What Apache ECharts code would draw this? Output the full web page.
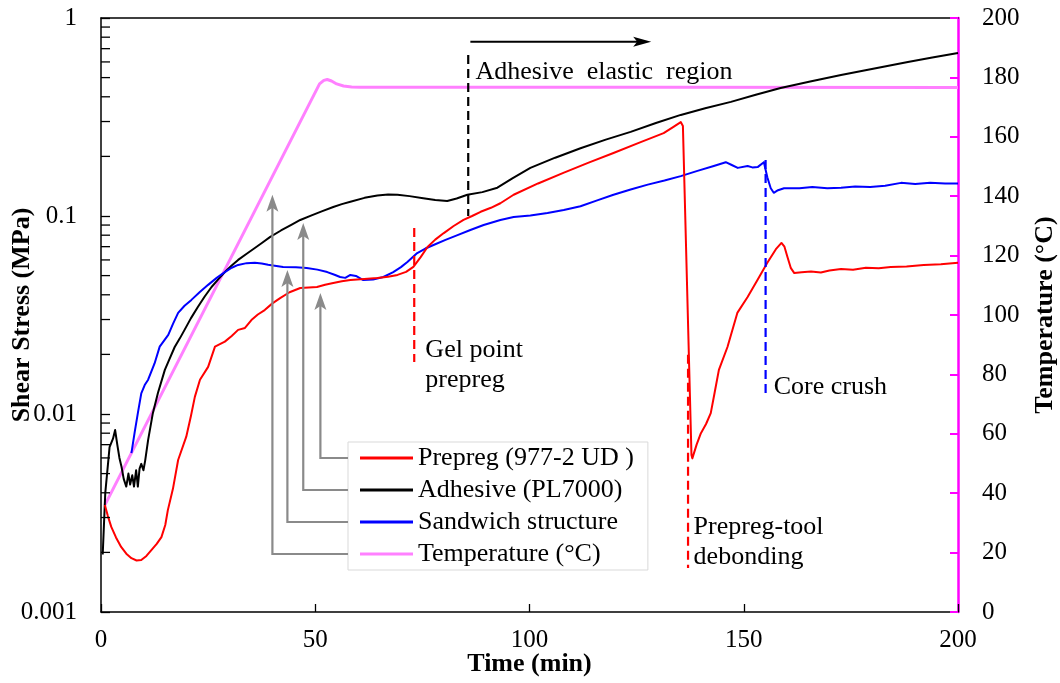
<!DOCTYPE html>
<html>
<head>
<meta charset="utf-8">
<title>Shear stress and temperature during cure</title>
<script src="https://cdn.jsdelivr.net/npm/echarts@6/dist/echarts.min.js"></script>
<style>
  html, body { margin: 0; padding: 0; background: #fff; }
  #chart { width: 1060px; height: 683px; }
</style>
</head>
<body>
<div id="chart"></div>
<script>
// ---- Data: [time (min), value] ----
const timeTicks = [0, 50, 100, 150, 200];
const stressTickLabels = ['0.001', '0.01', '0.1', '1'];
const temperatureTicks = [0, 20, 40, 60, 80, 100, 120, 140, 160, 180, 200];
const seriesNames = ['Prepreg (977-2 UD )', 'Adhesive (PL7000)', 'Sandwich structure', 'Temperature (°C)'];

// Prepreg (977-2 UD) shear stress, MPa
const prepreg = [
  [0.9, 0.00347], [1.6, 0.00305], [2.4, 0.00269], [3.5, 0.00238], [4.7, 0.00213],
  [5.9, 0.00197], [7.1, 0.00187], [8.3, 0.00182], [9.4, 0.00183], [10.6, 0.00192],
  [11.8, 0.00206], [13.0, 0.00221], [14.1, 0.00239], [15.0, 0.00275], [15.6, 0.00327],
  [16.8, 0.0042], [18.0, 0.00586], [19.9, 0.00768], [21.0, 0.0098], [21.9, 0.0122],
  [23.1, 0.0149], [25.0, 0.0173], [26.6, 0.0219], [28.9, 0.0232], [30.5, 0.0248],
  [32.0, 0.0266], [33.6, 0.0272], [35.1, 0.0298], [36.6, 0.0318], [38.2, 0.0335],
  [40.0, 0.0362], [41.8, 0.0385], [44.0, 0.0412], [46.5, 0.0433], [48.5, 0.0436],
  [50.4, 0.0438], [52.3, 0.0450], [54.2, 0.0459], [56.2, 0.0468], [58.2, 0.0475],
  [61.4, 0.0480], [64.5, 0.0486], [67.0, 0.0494], [69.2, 0.0504], [71.2, 0.0522],
  [72.9, 0.0553], [74.6, 0.0620], [76.2, 0.0697], [78.0, 0.0760], [80.0, 0.082],
  [82.3, 0.0890], [84.6, 0.0955], [86.6, 0.100], [88.6, 0.105], [91.0, 0.110],
  [93.2, 0.116], [96.3, 0.128], [102.0, 0.146], [107.9, 0.165], [113.8, 0.186],
  [119.6, 0.208], [125.5, 0.234], [131.3, 0.262], [133.6, 0.282], [135.3, 0.298],
  [135.8, 0.285], [137.8, 0.0062], [138.0, 0.00597], [139.0, 0.0070], [140.0, 0.0080],
  [141.2, 0.0089], [142.3, 0.0101], [143.2, 0.0128], [144.2, 0.0167], [146.2, 0.0218],
  [148.5, 0.0324], [150.9, 0.039], [153.2, 0.0475], [155.5, 0.058], [157.5, 0.068],
  [158.8, 0.0731], [159.5, 0.0700], [160.2, 0.0621], [161.0, 0.0545], [161.8, 0.0515],
  [163.5, 0.0520], [165.7, 0.0525], [168.0, 0.0518], [170.0, 0.0530], [172.7, 0.054],
  [175.5, 0.0535], [178.5, 0.0548], [181.5, 0.0545], [184.3, 0.0553], [188.0, 0.0556],
  [192.0, 0.0566], [196.0, 0.0570], [200.0, 0.058]
];

// Adhesive (PL7000) shear stress, MPa
const adhesive = [
  [0.4, 0.00195], [1.0, 0.0040], [2.0, 0.0068], [2.8, 0.0075], [3.3, 0.0083],
  [3.8, 0.0070], [4.3, 0.0060], [4.8, 0.0054], [5.3, 0.0047], [5.9, 0.0043],
  [6.4, 0.0050], [6.8, 0.0044], [7.3, 0.0049], [7.7, 0.0043], [8.2, 0.0052],
  [8.6, 0.0043], [9.0, 0.0053], [9.4, 0.0056], [9.9, 0.0052], [10.3, 0.0058],
  [11.0, 0.0074], [12.1, 0.0101], [13.3, 0.0128], [14.9, 0.0167], [16.0, 0.0190],
  [17.2, 0.0218], [18.4, 0.0241], [19.5, 0.0266], [21.0, 0.0305], [22.6, 0.0347],
  [24.2, 0.0392], [25.8, 0.0438], [27.4, 0.0480], [28.9, 0.0521], [30.5, 0.0562],
  [32.0, 0.060], [34.0, 0.0645], [35.9, 0.0689], [37.7, 0.0735], [39.5, 0.0784],
  [42.0, 0.0845], [44.3, 0.0900], [46.5, 0.0955], [49.0, 0.1005], [51.5, 0.1055],
  [54.2, 0.111], [56.2, 0.1148], [58.2, 0.118], [61.5, 0.1235], [64.5, 0.127],
  [67.0, 0.1285], [69.2, 0.128], [72.0, 0.126], [75.2, 0.123], [78.0, 0.1205],
  [80.8, 0.119], [83.0, 0.1225], [85.5, 0.128], [89.0, 0.132], [92.5, 0.139],
  [96.0, 0.155], [100.2, 0.175], [106.0, 0.197], [111.9, 0.220], [117.8, 0.243],
  [123.6, 0.266], [129.5, 0.295], [135.3, 0.324], [141.0, 0.350], [147.0, 0.377],
  [152.8, 0.410], [158.6, 0.443], [165.5, 0.478], [172.7, 0.515], [180.5, 0.556],
  [188.3, 0.600], [194.0, 0.632], [200.0, 0.666]
];

// Sandwich structure shear stress, MPa
const sandwich = [
  [7.1, 0.00635], [7.9, 0.0082], [8.6, 0.0101], [9.4, 0.0127], [10.2, 0.0140],
  [11.0, 0.0149], [12.5, 0.018], [13.7, 0.0219], [15.7, 0.0251], [16.8, 0.0285],
  [18.0, 0.0324], [19.5, 0.0352], [21.1, 0.0377], [23.0, 0.0412], [25.0, 0.0449],
  [27.0, 0.0487], [28.9, 0.0521], [30.5, 0.0548], [32.0, 0.0566], [34.0, 0.0578],
  [35.9, 0.058], [37.5, 0.0575], [39.0, 0.0567], [42.5, 0.0553], [45.5, 0.0551],
  [48.0, 0.0546], [50.5, 0.0536], [52.8, 0.0521], [54.5, 0.0505], [55.8, 0.0492],
  [57.0, 0.0487], [58.2, 0.0504], [59.5, 0.0498], [61.2, 0.0475], [63.5, 0.0478],
  [65.9, 0.0492], [68.2, 0.0521], [70.0, 0.0552], [71.5, 0.0586], [73.8, 0.065],
  [75.7, 0.0685], [77.6, 0.0714], [80.4, 0.0758], [83.2, 0.080], [86.2, 0.085],
  [89.3, 0.090], [93.2, 0.0955], [96.3, 0.0989], [100.2, 0.1005], [104.2, 0.1036],
  [108.0, 0.1072], [111.9, 0.112], [115.8, 0.120], [119.6, 0.128], [123.6, 0.136],
  [127.6, 0.144], [131.5, 0.151], [135.3, 0.159], [139.2, 0.169], [143.0, 0.179],
  [145.8, 0.187], [147.2, 0.181], [148.6, 0.175], [150.9, 0.179], [152.0, 0.176],
  [153.3, 0.177], [154.7, 0.187], [155.5, 0.157], [156.3, 0.138], [157.0, 0.131],
  [158.0, 0.135], [159.4, 0.138], [163.0, 0.138], [166.0, 0.140], [169.5, 0.138],
  [172.7, 0.139], [176.0, 0.141], [179.5, 0.140], [183.0, 0.142], [186.7, 0.147],
  [190.0, 0.145], [193.5, 0.147], [197.0, 0.146], [200.0, 0.146]
];

// Cure temperature, °C
const temperature = [
  [0.9, 36.0], [51.0, 177.8], [52.0, 179.0], [52.8, 179.3], [53.8, 178.8],
  [55.0, 177.8], [56.6, 177.1], [58.5, 176.8], [60.5, 176.7], [130.0, 176.7],
  [200.0, 176.6]
];

// Event markers: vertical dashed lines [time, from stress, to stress]
const eventMarkers = [
  { t: 73.1,  from: 0.0869, to: 0.0183,  color: '#ff0000' },  // gel point
  { t: 85.7,  from: 0.651,  to: 0.100,   color: '#000000' },  // start of adhesive elastic region
  { t: 137.0, from: 0.0199, to: 0.00167, color: '#ff0000' },  // prepreg-tool debonding
  { t: 155.1, from: 0.192,  to: 0.0122,  color: '#0000ff' }   // core crush
];
// Event captions, anchored at [time, stress] (left edge, middle of first line)
const eventLabels = [
  { t: 75.7,  v: 0.02105, text: 'Gel point\nprepreg' },
  { t: 87.4,  v: 0.533,   text: 'Adhesive  elastic  region' },
  { t: 138.3, v: 0.00269, text: 'Prepreg-tool\ndebonding' },
  { t: 157.0, v: 0.01368, text: 'Core crush' }
];
// Elastic-region arrow: from/to time at a given stress level
const elasticArrow = { from: 86.2, to: 128.4, v: 0.759 };
// Legend pointer arrows: time of the vertical stem and stress at its tip (one per legend row)
const legendPointers = [
  { t: 51.2, v: 0.0408 },  // prepreg
  { t: 47.2, v: 0.0922 },  // adhesive
  { t: 43.5, v: 0.0534 },  // sandwich
  { t: 40.0, v: 0.128 }    // temperature
];

// Minor log ticks 2..9 in each decade
const minorTickValues = [];
[0.001, 0.01, 0.1].forEach(d => { for (let k = 2; k <= 9; k++) minorTickValues.push(+(d * k).toPrecision(3)); });

const SERIF = '"Liberation Serif", "Times New Roman", serif';
const C = { prepreg: '#ff0000', adhesive: '#000000', sandwich: '#0000ff', temp: '#ff80ff', tempAxis: '#ff00ff', pointer: '#8a8a8a' };
const LABEL_FONT = 25;
const NOTE_FONT = 26;

// Legend box layout (pixels)
const LEG = { left: 348, top: 442, rowGap: 32, firstRow: 458 };

const chart = echarts.init(document.getElementById('chart'));

const lineSeries = (name, data, color, width, yAxisIndex) => ({
  name, type: 'line', data, yAxisIndex, xAxisIndex: 0,
  showSymbol: false, symbol: 'none', smooth: false, silent: true,
  lineStyle: { color, width, join: 'round' }, itemStyle: { color }, z: 3
});

const nameStyle = { fontFamily: SERIF, fontWeight: 'bold', fontSize: 26, color: '#000' };
const tickLabel = { fontFamily: SERIF, fontSize: LABEL_FONT, color: '#000' };

chart.setOption({
  animation: false,
  backgroundColor: '#ffffff',
  grid: { left: 101, right: 102, top: 18, bottom: 71, containLabel: false, outerBoundsMode: 'none' },
  legend: {
    orient: 'vertical',
    left: LEG.left, top: LEG.top,
    data: seriesNames,
    icon: 'rect', itemWidth: 53, itemHeight: 3, itemGap: 6,
    padding: [3, 14, 3, 12],
    backgroundColor: '#ffffff',
    borderColor: '#d9d9d9', borderWidth: 1,
    textStyle: { fontFamily: SERIF, fontSize: NOTE_FONT, color: '#000', lineHeight: 26 },
    selectedMode: false
  },
  xAxis: [{
    type: 'value', min: 0, max: 200, interval: 50,
    name: 'Time (min)', nameLocation: 'middle', nameGap: 39, nameMoveOverlap: false,
    nameTextStyle: nameStyle,
    axisLine: { onZero: false, lineStyle: { color: '#000', width: 1.5 } },
    axisTick: { inside: true, length: 8, lineStyle: { color: '#000', width: 1.3 } },
    axisLabel: Object.assign({ margin: 16, formatter: v => timeTicks.includes(v) ? String(v) : '' }, tickLabel),
    splitLine: { show: false }
  }, {
    type: 'value', position: 'top', min: 0, max: 200,
    axisLine: { show: true, onZero: false, lineStyle: { color: '#000', width: 1.5 } },
    axisTick: { show: false }, axisLabel: { show: false }, splitLine: { show: false }
  }],
  yAxis: [{
    type: 'log', logBase: 10, min: 0.001, max: 1, position: 'left',
    name: 'Shear Stress (MPa)', nameLocation: 'middle', nameGap: 66, nameRotate: 90, nameMoveOverlap: false,
    nameTextStyle: nameStyle,
    axisLine: { show: true, onZero: false, lineStyle: { color: '#000', width: 1.5 } },
    axisTick: { inside: true, length: 9, lineStyle: { color: '#000', width: 1.3 } },
    axisLabel: Object.assign({ margin: 24, formatter: v => stressTickLabels[Math.round(Math.log10(v)) + 3] }, tickLabel),
    splitLine: { show: false }
  }, {
    type: 'value', position: 'right', min: 0, max: 200, interval: 20,
    name: 'Temperature (°C)', nameLocation: 'middle', nameGap: 74, nameRotate: 90, nameMoveOverlap: false,
    nameTextStyle: nameStyle,
    axisLine: { show: true, onZero: false, lineStyle: { color: C.tempAxis, width: 2.5 } },
    axisTick: { inside: true, length: 8, lineStyle: { color: C.tempAxis, width: 2 } },
    axisLabel: Object.assign({ margin: 24, formatter: v => temperatureTicks.includes(v) ? String(v) : '' }, tickLabel),
    splitLine: { show: false }
  }],
  series: [
    {
      name: 'minorTicks', type: 'custom', xAxisIndex: 0, yAxisIndex: 0, silent: true, clip: false, z: 5,
      data: minorTickValues.map(v => [0, v]),
      renderItem: (params, api) => {
        const p = api.coord([0, api.value(1)]);
        return { type: 'line', shape: { x1: p[0], y1: p[1], x2: p[0] + 9, y2: p[1] },
          style: { stroke: '#000', lineWidth: 1.3 } };
      }
    },
    lineSeries(seriesNames[3], temperature, C.temp, 3, 1),
    lineSeries(seriesNames[1], adhesive, C.adhesive, 2, 0),
    lineSeries(seriesNames[2], sandwich, C.sandwich, 2, 0),
    lineSeries(seriesNames[0], prepreg, C.prepreg, 2, 0)
  ]
});

// Annotations placed through the axes' own scales
function buildAnnotations() {
  const px = (t, v) => chart.convertToPixel({ xAxisIndex: 0, yAxisIndex: 0 }, [t, v]);
  const els = [];

  eventMarkers.forEach(m => {
    const a = px(m.t, m.from), b = px(m.t, m.to);
    els.push({ type: 'line', z: 10, silent: true,
      shape: { x1: a[0], y1: a[1], x2: b[0], y2: b[1] },
      style: { stroke: m.color, lineWidth: 2.2, lineDash: [9, 5] } });
  });

  eventLabels.forEach(l => {
    const p = px(l.t, l.v);
    els.push({ type: 'text', z: 10, silent: true, x: p[0], y: p[1] - 15,
      style: { text: l.text, font: NOTE_FONT + 'px ' + SERIF, fill: '#000', lineHeight: 30,
        align: 'left', verticalAlign: 'top', textAlign: 'left', textVerticalAlign: 'top' } });
  });

  // horizontal arrow marking the adhesive elastic region
  const ea = px(elasticArrow.from, elasticArrow.v), eb = px(elasticArrow.to, elasticArrow.v);
  els.push({ type: 'line', z: 10, silent: true,
    shape: { x1: ea[0], y1: ea[1], x2: eb[0] - 12, y2: eb[1] },
    style: { stroke: '#000', lineWidth: 2 } });
  els.push({ type: 'polygon', z: 10, silent: true,
    shape: { points: [[eb[0], eb[1]], [eb[0] - 18, eb[1] - 5], [eb[0] - 14, eb[1]], [eb[0] - 18, eb[1] + 5]] },
    style: { fill: '#000' } });

  // grey pointers joining legend rows to their curves
  legendPointers.forEach((lp, i) => {
    const tip = px(lp.t, lp.v);
    const rowY = LEG.firstRow + i * LEG.rowGap;
    els.push({ type: 'polyline', z: 8, silent: true,
      shape: { points: [[LEG.left, rowY], [tip[0], rowY], [tip[0], tip[1] + 12]] },
      style: { stroke: C.pointer, lineWidth: 2.2, fill: null } });
    els.push({ type: 'polygon', z: 8, silent: true,
      shape: { points: [[tip[0], tip[1]], [tip[0] + 6, tip[1] + 17], [tip[0], tip[1] + 13], [tip[0] - 6, tip[1] + 17]] },
      style: { fill: C.pointer } });
  });
  return els;
}

chart.setOption({ graphic: buildAnnotations() });
</script>
</body>
</html>
